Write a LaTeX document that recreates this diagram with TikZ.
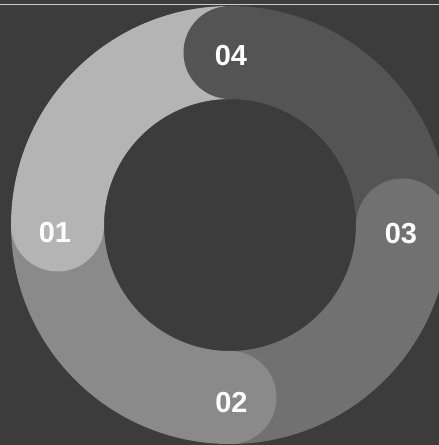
\documentclass[tikz,border=0pt]{standalone}
\usepackage{fontspec}
\setmainfont{Liberation Sans}
\definecolor{Backdrop}{RGB}{60,60,60}
\definecolor{SegOne}{RGB}{180,180,180}
\definecolor{SegTwo}{RGB}{138,138,138}
\definecolor{SegThree}{RGB}{113,113,113}
\definecolor{SegFour}{RGB}{84,84,84}
\definecolor{TopRule}{RGB}{205,205,205}
\usepackage{tikz}
\usetikzlibrary{positioning}

\begin{document}
\begin{tikzpicture}[x=1pt,y=1pt,
    steplabel/.style={text=white,inner sep=0pt,font=\fontsize{29}{29}\selectfont\bfseries}]
  \fill[Backdrop] (0,0) rectangle (439,445);
  \useasboundingbox (0,0) rectangle (439,445);
  \clip (0,0) rectangle (439,445);
  \begin{scope}[shift={(230,220)}]
    % ring bodies, tail to head
    \foreach \a/\col in {90/SegOne,180/SegTwo,270/SegThree,0/SegFour} {
      \draw[\col,line width=93pt] (\a:172.5) arc[start angle=\a,end angle=\a+90,radius=172.5];
    }
    % round heads over the next piece
    \foreach \a/\col in {180/SegOne,270/SegTwo,360/SegThree,90/SegFour} {
      \fill[\col] (\a:172.5) circle[radius=46.5];
    }
  \end{scope}
  \draw[TopRule,line width=1.4pt] (0,440.5) -- (439,440.5);
  \node[steplabel] (one) at (55,212.5) {01};
  \node[steplabel] (two) at (231.5,42) {02};
  \node[steplabel] (three) at (401,211.5) {03};
  \node[steplabel] (four) at (231,389) {04};
\end{tikzpicture}
\end{document}
